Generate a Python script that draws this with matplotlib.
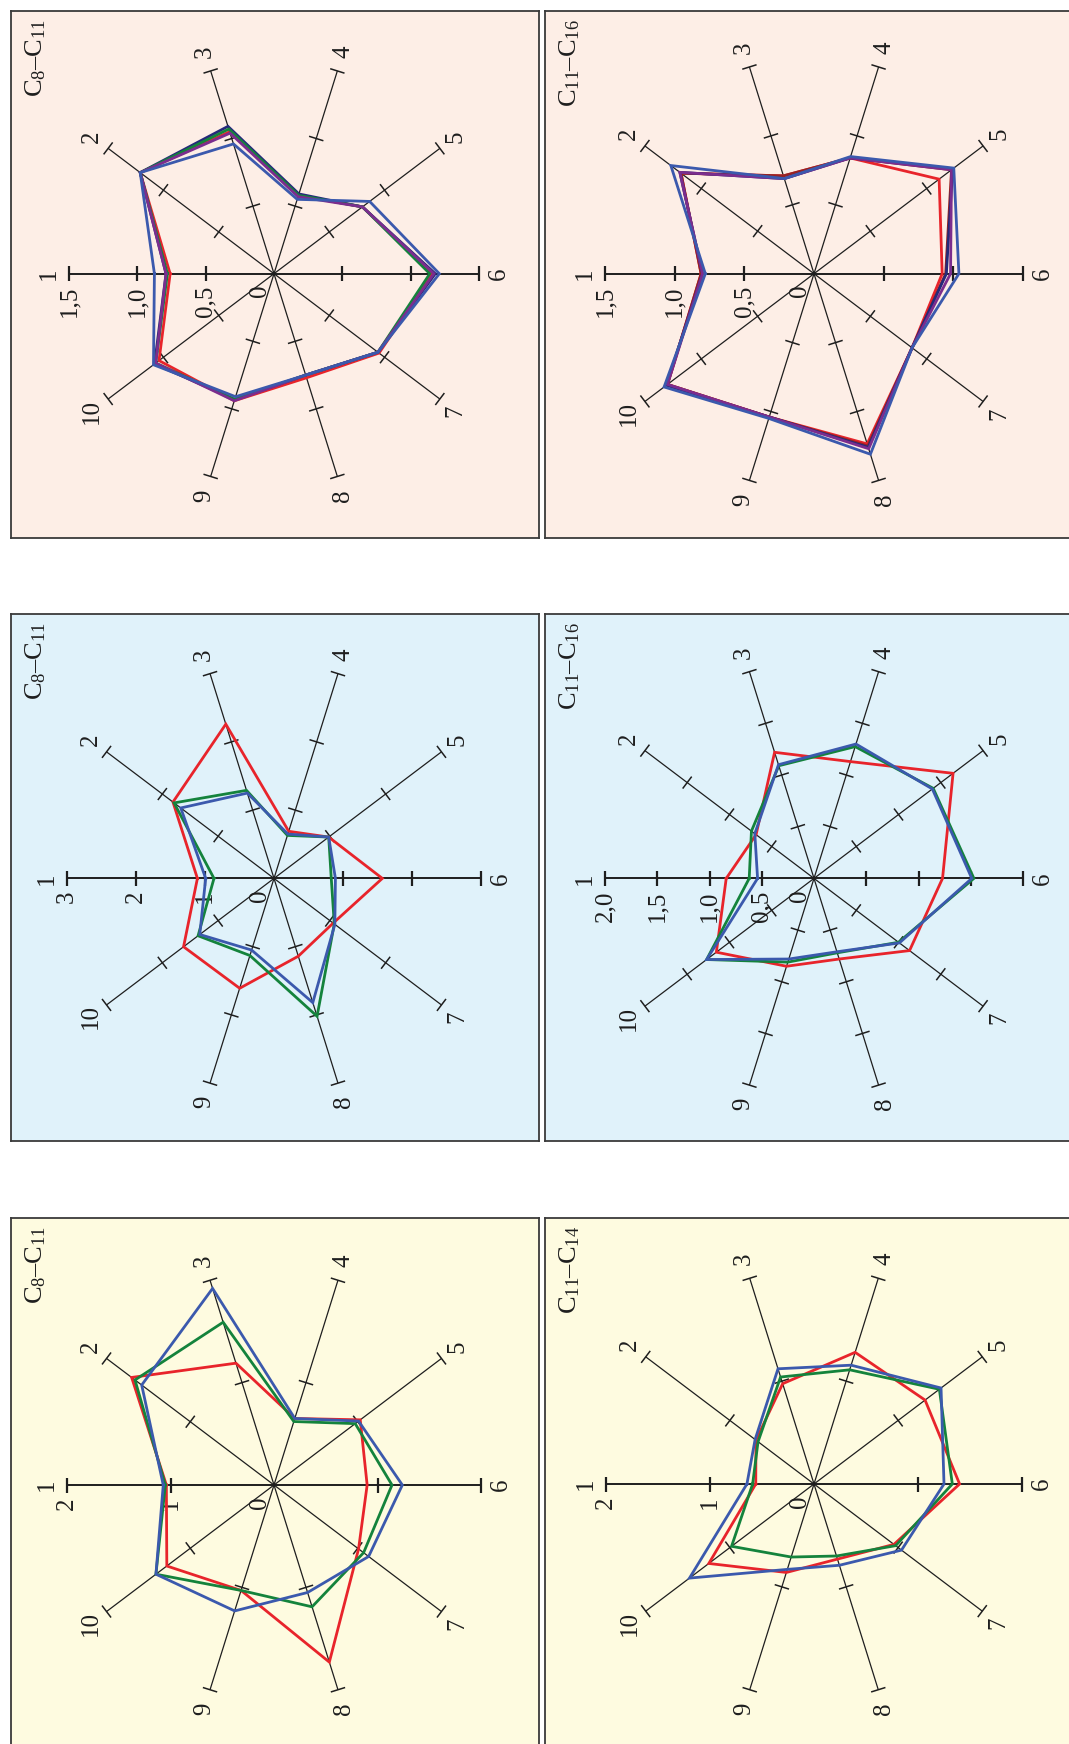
import numpy as np
import matplotlib
matplotlib.use("Agg")
import matplotlib.pyplot as plt

plt.rcParams['font.family'] = ['Liberation Serif', 'DejaVu Serif']
plt.rcParams['mathtext.fontset'] = 'custom'
plt.rcParams['mathtext.rm'] = 'Liberation Serif'
plt.rcParams['mathtext.it'] = 'Liberation Serif:italic'

# ---- data: values on spokes 1..10 ----
spoke_names = ['1', '2', '3', '4', '5', '6', '7', '8', '9', '10']

# pink, C8-C11 (scale 0..1.5)
pa_red    = [0.76, 1.21, 1.05, 0.58, 0.80, 1.16, 0.95, 0.77, 0.94, 1.04]
pa_navy   = [0.79, 1.21, 1.09, 0.59, 0.80, 1.18, 0.94, 0.75, 0.93, 1.08]
pa_green  = [0.78, 1.21, 1.07, 0.58, 0.80, 1.14, 0.94, 0.75, 0.93, 1.07]
pa_purple = [0.79, 1.21, 1.04, 0.57, 0.80, 1.17, 0.94, 0.75, 0.94, 1.07]
pa_blue   = [0.875, 1.21, 0.96, 0.55, 0.865, 1.21, 0.94, 0.75, 0.91, 1.09]

# pink, C11-C16 (scale 0..1.5)
pb_red     = [0.81, 1.18, 0.71, 0.84, 1.11, 0.92, 0.87, 1.235, 1.04, 1.30]
pb_darkred = [0.81, 1.18, 0.71, 0.84, 1.22, 0.945, 0.87, 1.25, 1.04, 1.30]
pb_navy    = [0.80, 1.19, 0.69, 0.84, 1.23, 0.95, 0.87, 1.26, 1.04, 1.31]
pb_purple  = [0.80, 1.19, 0.69, 0.84, 1.22, 0.98, 0.87, 1.27, 1.04, 1.30]
pb_blue    = [0.78, 1.27, 0.69, 0.85, 1.24, 1.04, 0.87, 1.31, 1.05, 1.33]

# blue, C8-C11 (scale 0..3)
ba_red   = [1.11, 1.81, 2.26, 0.69, 0.98, 1.57, 1.06, 1.14, 1.61, 1.62]
ba_green = [0.87, 1.79, 1.29, 0.63, 0.98, 0.83, 1.08, 2.02, 1.13, 1.36]
ba_blue  = [0.99, 1.67, 1.25, 0.65, 0.98, 0.89, 1.09, 1.82, 1.05, 1.33]

# blue, C11-C16 (scale 0..2.0)
bb_red   = [0.84, 0.685, 1.22, 1.13, 1.645, 1.23, 1.13, 0.78, 0.85, 1.155]
bb_green = [0.62, 0.74, 1.09, 1.275, 1.41, 1.53, 1.00, 0.72, 0.81, 1.27]
bb_blue  = [0.54, 0.70, 1.10, 1.30, 1.40, 1.51, 1.01, 0.71, 0.78, 1.27]

# yellow, C8-C11 (scale 0..2)
ya_red   = [1.04, 1.70, 1.19, 0.65, 1.03, 0.90, 1.01, 1.73, 1.03, 1.28]
ya_green = [1.05, 1.66, 1.59, 0.62, 0.97, 1.14, 1.07, 1.19, 1.03, 1.41]
ya_blue  = [1.07, 1.58, 1.92, 0.65, 1.01, 1.24, 1.13, 1.05, 1.23, 1.41]

# yellow, C11-C14 (scale 0..2)
yb_red   = [0.56, 0.69, 0.975, 1.28, 1.32, 1.40, 0.95, 0.73, 0.86, 1.25]
yb_green = [0.59, 0.665, 1.04, 1.11, 1.49, 1.33, 0.97, 0.70, 0.71, 0.98]
yb_blue  = [0.645, 0.70, 1.12, 1.155, 1.51, 1.25, 1.04, 0.79, 0.83, 1.48]

# ---- styles ----
RED = '#e8242b'
GREEN = '#14833c'
BLUE = '#3b59ad'
PURPLE = '#7b2d8e'
NAVY = '#25297a'
DARKRED = '#962323'
PINK_BG = '#fdeee6'
BLUE_BG = '#e0f2fa'
YELLOW_BG = '#fefbe0'
INK = '#1e1e1e'

W, H, DPI = 1069, 1744, 100
ASPECT = 1.04          # vertical stretch of the star
BOX_W, BOX_H = 528, 527
LABEL_FS = 18
TITLE_FS = 19

panels = [
    dict(title=r'$\mathrm{C}_{8}$–$\mathrm{C}_{11}$', bg=PINK_BG, vmax=1.5,
         ticks=[0.5, 1.0, 1.5], labels=['0,5', '1,0', '1,5'],
         series=[(pa_red, RED), (pa_navy, NAVY), (pa_green, GREEN), (pa_purple, PURPLE), (pa_blue, BLUE)],
         box=(11, 11), center=(274, 273.7), R=205),
    dict(title=r'$\mathrm{C}_{11}$–$\mathrm{C}_{16}$', bg=PINK_BG, vmax=1.5,
         ticks=[0.5, 1.0, 1.5], labels=['0,5', '1,0', '1,5'],
         series=[(pb_red, RED), (pb_darkred, DARKRED), (pb_navy, NAVY), (pb_purple, PURPLE), (pb_blue, BLUE)],
         box=(545, 11), center=(814, 273.7), R=209),
    dict(title=r'$\mathrm{C}_{8}$–$\mathrm{C}_{11}$', bg=BLUE_BG, vmax=3.0,
         ticks=[1, 2, 3], labels=['1', '2', '3'],
         series=[(ba_red, RED), (ba_green, GREEN), (ba_blue, BLUE)],
         box=(11, 614), center=(274, 878.4), R=207),
    dict(title=r'$\mathrm{C}_{11}$–$\mathrm{C}_{16}$', bg=BLUE_BG, vmax=2.0,
         ticks=[0.5, 1.0, 1.5, 2.0], labels=['0,5', '1,0', '1,5', '2,0'],
         series=[(bb_red, RED), (bb_green, GREEN), (bb_blue, BLUE)],
         box=(545, 614), center=(814, 878.4), R=209),
    dict(title=r'$\mathrm{C}_{8}$–$\mathrm{C}_{11}$', bg=YELLOW_BG, vmax=2.0,
         ticks=[1, 2], labels=['1', '2'],
         series=[(ya_red, RED), (ya_green, GREEN), (ya_blue, BLUE)],
         box=(11, 1218), center=(274, 1485), R=207),
    dict(title=r'$\mathrm{C}_{11}$–$\mathrm{C}_{14}$', bg=YELLOW_BG, vmax=2.0,
         ticks=[1, 2], labels=['1', '2'],
         series=[(yb_red, RED), (yb_green, GREEN), (yb_blue, BLUE)],
         box=(545, 1218), center=(814, 1484), R=208),
]

fig = plt.figure(figsize=(W / DPI, H / DPI), dpi=DPI)
fig.patch.set_facecolor('white')

theta = np.pi - np.arange(len(spoke_names)) * np.pi / 5   # spoke 1 points left, clockwise

for p in panels:
    bx, by = p['box']
    cx, cy = p['center']
    R = p['R']
    Ry = R * ASPECT
    vmax = p['vmax']
    sx = vmax / R      # value units per pixel (horizontal)
    sy = vmax / Ry     # value units per pixel (vertical)

    ax = fig.add_axes([bx / W, 1 - (by + BOX_H) / H, BOX_W / W, BOX_H / H])
    ax.set_facecolor(p['bg'])
    ax.set_xlim((bx - cx) * sx, (bx + BOX_W - cx) * sx)
    ax.set_ylim(-(by + BOX_H - cy) * sy, (cy - by) * sy)
    ax.set_xticks([])
    ax.set_yticks([])
    for sp in ax.spines.values():
        sp.set_linewidth(1.3)
        sp.set_color('#3a3a3a')

    for k, th in enumerate(theta):
        horiz = abs(np.sin(th)) < 1e-6
        lw = 1.4 if horiz else 0.9
        c, s = np.cos(th), np.sin(th)
        ax.plot([0, vmax * c], [0, vmax * s], color=INK, lw=lw, zorder=2,
                solid_capstyle='butt')
        # display direction and its normal
        d = np.array([R * c, Ry * s])
        d /= np.hypot(*d)
        nrm = np.array([-d[1], d[0]])
        half = 7.5
        for t in p['ticks']:
            px, py = t * c, t * s
            ax.plot([px - nrm[0] * half * sx, px + nrm[0] * half * sx],
                    [py - nrm[1] * half * sy, py + nrm[1] * half * sy],
                    color=INK, lw=lw + 0.2, zorder=2, solid_capstyle='butt')
        off = 20
        lx = vmax * c + d[0] * off * sx
        ly = vmax * s + d[1] * off * sy
        ax.text(lx, ly, spoke_names[k], rotation=90, ha='center', va='center',
                fontsize=LABEL_FS, color=INK, zorder=3)

    # scale labels under spoke 1
    for t, lab in zip(p['ticks'], p['labels']):
        ax.text(-t, -12 * sy, lab, rotation=90, ha='center', va='top',
                fontsize=LABEL_FS, color=INK, zorder=3)
    ax.text(-14 * sx, -11 * sy, '0', rotation=90, ha='center', va='top',
            fontsize=LABEL_FS, color=INK, zorder=3)

    for vals, col in p['series']:
        v = np.array(vals + vals[:1])
        th = np.concatenate([theta, theta[:1]])
        ax.plot(v * np.cos(th), v * np.sin(th), color=col, lw=2.0, zorder=4,
                solid_joinstyle='miter')

    ax.text(12 / BOX_W, 1 - 8 / BOX_H, p['title'], transform=ax.transAxes,
            rotation=90, ha='left', va='top', fontsize=TITLE_FS, color=INK, zorder=5)

fig.savefig('out.png', dpi=DPI)
